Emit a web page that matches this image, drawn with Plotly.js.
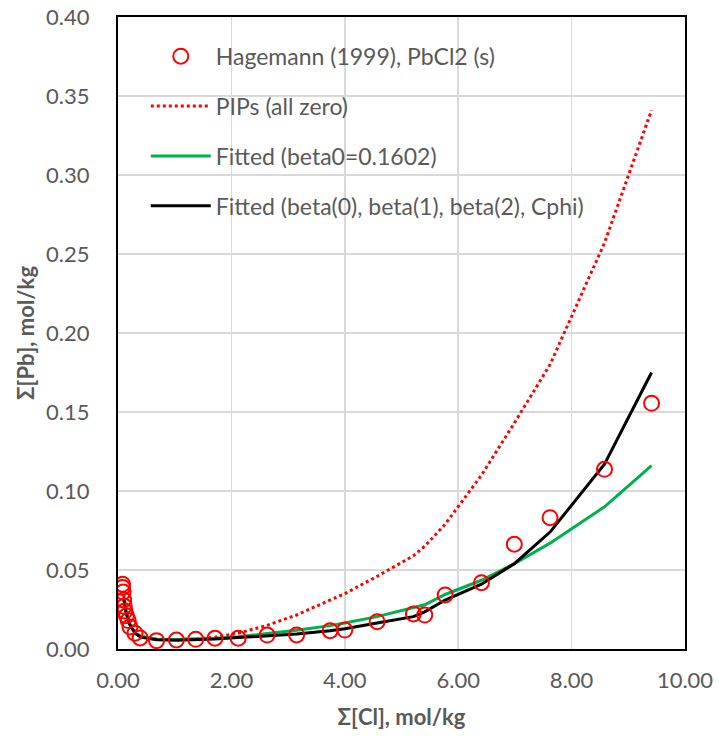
<!DOCTYPE html>
<html>
<head>
<meta charset="utf-8">
<script src="https://cdn.plot.ly/plotly-3.0.1.min.js"></script>
<style>html,body{margin:0;padding:0;background:#fff}#chart{width:719px;height:736px}</style>
</head>
<body>
<div id="chart"></div>
<script>
// Experimental data: Hagemann (1999), PbCl2 (s)
const dataCl = [0.08, 0.08, 0.09, 0.10, 0.11, 0.12, 0.15, 0.18, 0.21, 0.30, 0.39,
                0.68, 1.03, 1.37, 1.71, 2.12, 2.63, 3.15, 3.74, 4.00, 4.57, 5.21, 5.41, 5.77, 6.41, 6.99, 7.62, 8.58, 9.41];
const dataPb = [0.041, 0.039, 0.036, 0.031, 0.027, 0.024, 0.021, 0.018, 0.014, 0.010, 0.0070,
                0.0053, 0.0057, 0.0061, 0.0068, 0.0068, 0.0088, 0.0089, 0.0116, 0.0120, 0.0173, 0.0222, 0.0215, 0.0342, 0.0420, 0.0663, 0.0831, 0.1137, 0.1555];

// Model curves
const modelCl = [0.10, 0.15, 0.20, 0.30, 0.40, 0.68, 1.03, 1.37, 1.71, 2.12, 2.63, 3.15, 3.74, 4.00, 4.57, 5.21, 5.41, 5.77, 6.41, 6.99, 7.62, 8.58, 9.41];
const pipsPb   = [0.034, 0.023, 0.017, 0.011, 0.0080, 0.0062, 0.0060, 0.0063, 0.0075, 0.0100, 0.0150, 0.0215, 0.0310, 0.0350, 0.0460, 0.0590, 0.0650, 0.0790, 0.1100, 0.1430, 0.1800, 0.2570, 0.3410];
const beta0Pb  = [0.032, 0.022, 0.016, 0.010, 0.0078, 0.0062, 0.0060, 0.0062, 0.0068, 0.0078, 0.0097, 0.0118, 0.0148, 0.0164, 0.0205, 0.0262, 0.0280, 0.0345, 0.0435, 0.0540, 0.0670, 0.0900, 0.1160];
const fullPb   = [0.032, 0.022, 0.016, 0.010, 0.0075, 0.0058, 0.0056, 0.0058, 0.0063, 0.0072, 0.0085, 0.0095, 0.0115, 0.0128, 0.0165, 0.0205, 0.0235, 0.0310, 0.0410, 0.0540, 0.0740, 0.1170, 0.1750];

const names = ['Hagemann (1999), PbCl2 (s)', 'PIPs (all zero)', 'Fitted (beta0=0.1602)', 'Fitted (beta(0), beta(1), beta(2), Cphi)'];

const traces = [
  {x: modelCl, y: pipsPb, mode: 'lines', name: names[1], legendgroup: 'b', legendrank: 2,
   line: {color: '#FF0000', width: 3, dash: 'dot'}},
  {x: modelCl, y: beta0Pb, mode: 'lines', name: names[2], legendgroup: 'c', legendrank: 3,
   line: {color: '#00B050', width: 3}},
  {x: modelCl, y: fullPb, mode: 'lines', name: names[3], legendgroup: 'd', legendrank: 4,
   line: {color: '#000000', width: 3}},
  {x: dataCl, y: dataPb, mode: 'markers', name: names[0], legendgroup: 'a', legendrank: 1,
   marker: {symbol: 'circle-open', size: 15, color: '#FF0000', line: {width: 2, color: '#FF0000'}}}
];

const tickFont = {family: 'Lato, "Open Sans", sans-serif', size: 22, color: '#595959'};
const titleFont = {family: 'Lato, "Open Sans", sans-serif', size: 22, color: '#595959', weight: 'bold'};

const layout = {
  width: 719, height: 736,
  margin: {l: 118, r: 34, t: 17, b: 87},
  paper_bgcolor: '#ffffff', plot_bgcolor: '#ffffff',
  showlegend: true,
  legend: {
    x: 0.049, y: 0.972, xanchor: 'left', yanchor: 'top',
    bgcolor: 'rgba(0,0,0,0)', borderwidth: 0,
    traceorder: 'grouped', tracegroupgap: 17, itemwidth: 60,
    font: {family: 'Lato, "Open Sans", sans-serif', size: 23, color: '#595959'}
  },
  xaxis: {
    range: [0, 10], dtick: 2, tickformat: '.2f',
    showgrid: true, gridcolor: '#D9D9D9', gridwidth: 1.5,
    showline: true, linecolor: '#000000', linewidth: 2, mirror: true,
    zeroline: false, ticks: '', ticklabelstandoff: 11,
    tickfont: tickFont,
    title: {text: 'Σ[Cl], mol/kg', font: titleFont, standoff: 17}
  },
  yaxis: {
    range: [0, 0.40], dtick: 0.05, tickformat: '.2f',
    showgrid: true, gridcolor: '#D9D9D9', gridwidth: 1.5,
    showline: true, linecolor: '#000000', linewidth: 2, mirror: true,
    zeroline: false, ticks: '', ticklabelstandoff: 22,
    tickfont: tickFont,
    title: {text: 'Σ[Pb], mol/kg', font: titleFont, standoff: 5}
  }
};

Plotly.newPlot('chart', traces, layout, {displayModeBar: false, staticPlot: true});
</script>
</body>
</html>
